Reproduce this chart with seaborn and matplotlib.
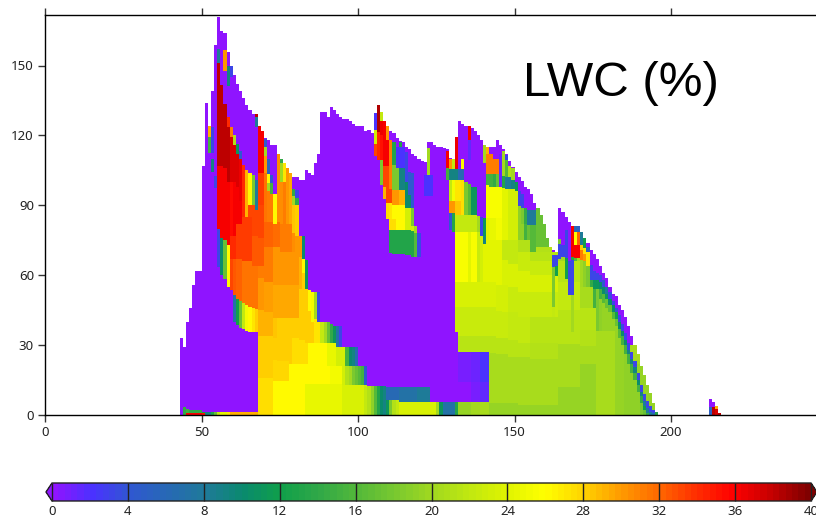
import numpy as np
import pandas as pd
import matplotlib
matplotlib.use("Agg")
import matplotlib.pyplot as plt
from matplotlib.colors import LinearSegmentedColormap
import seaborn as sns

# upper edge of the data, one value per column starting at env_first
env_first = 43
env_top = [33, 29, 40, 46, 56, 62, 62, 107, 134, 124, 139, 159, 171, 165, 164, 156, 150, 146, 142, 139,
           136, 133, 131, 129, 129, 124, 122, 119, 118, 116, 116, 112, 110, 108, 106, 104, 102, 102, 101, 101,
           105, 104, 103, 108, 112, 130, 130, 128, 132, 131, 129, 128, 127, 127, 126, 125, 124, 124, 124, 122,
           122.5, 121, 129.5, 133, 130, 126, 124, 122, 121, 119, 117.5, 117, 115, 114, 112, 111, 110, 109, 108.5, 117,
           117, 116, 115, 115, 114.5, 114, 110.5, 110, 119.5, 126, 125, 124, 124, 123, 122, 120, 118, 116, 115, 115,
           115, 118, 116, 114, 112, 109, 106.5, 104.5, 102, 100.5, 98, 97, 95, 91, 89, 86, 82, 76, 72, 71,
           70, 89, 87, 85, 83, 81, 81, 81, 78.5, 76, 74, 71, 69, 67, 64, 61, 59, 55, 52, 51,
           47, 45, 42, 38, 34, 30, 26, 21, 17, 13, 9.5, 5, 1.5]
spike_first = 212
spike_top = [7, 5.5, 4, 1]

# column ranges and their LWC layers from the ground up: (layer top, LWC), None keeps what is there
col_range = [
    (44, 44), (45, 45), (46, 49), (50, 50), (51, 51), (52, 52), (53, 53), (54, 54), (55, 55), (56, 56),
    (57, 57), (58, 58), (59, 59), (60, 60), (61, 61), (62, 62), (63, 63), (64, 64), (65, 65), (66, 66),
    (67, 67), (68, 68), (69, 69), (70, 70), (71, 71), (72, 72), (73, 73), (74, 74), (75, 75), (76, 76),
    (77, 77), (78, 78), (79, 79), (80, 80), (81, 81), (82, 82), (83, 83), (84, 84), (85, 85), (86, 86),
    (87, 87), (88, 88), (89, 89), (90, 90), (91, 91), (92, 92), (93, 93), (94, 94), (95, 95), (96, 96),
    (97, 97), (98, 98), (99, 99), (100, 100), (101, 101), (102, 102), (103, 103), (104, 104), (105, 105), (106, 106),
    (107, 107), (108, 108), (109, 109), (110, 110), (111, 111), (112, 112), (113, 113), (114, 114), (115, 115), (116, 116),
    (117, 117), (118, 118), (119, 119), (120, 120), (121, 121), (122, 122), (123, 123), (124, 124), (125, 125), (126, 126),
    (127, 127), (128, 128), (129, 129), (130, 130), (131, 131),
]
col_layers = [
    [(3.5, 14)], [(1, 36), (2.5, 15)], [(1, 36), (2, 14)], [(1, 35), (1.5, 12)], [(1.5, 9)],
    [(1.5, 9), (112.5, 0), (119.5, 15), (124, 29)],
    [(1.5, 13), (104.5, 0), (110, 9), (112.5, 0), (123.5, 3)],
    [(1.5, 17), (97.5, 0), (102.5, 3)],
    [(1.5, 22), (63.5, 0), (80, 3), (107, 36), (151, 38), (157, 8)],
    [(1.5, 24), (60, 0), (76, 10), (107, 36), (141.5, 38)],
    [(1.5, 24), (58.5, 0), (75, 17), (106, 36), (133.5, 38), (147.5, 0), (156.5, 30)],
    [(1.5, 27), (55, 0), (73, 26), (100, 36), (123.5, 38), (128, 34), (141, 0), (150, 9)],
    [(1.5, 29), (53.5, 0), (67, 33), (77, 34), (100, 35.5), (119.5, 37), (123.5, 31), (145, 0), (150.5, 3)],
    [(1.5, 29), (40, 0), (51.5, 7), (67, 32.5), (77, 34), (100, 36), (116, 37), (120, 21)],
    [(1.5, 29), (38.5, 0), (50, 12), (67, 32), (82, 33.5), (98, 36), (112, 37), (116.5, 11)],
    [(1.5, 29), (37.5, 0), (49, 17), (67, 32), (82, 33.5), (92, 36), (110, 36.5), (113.5, 4)],
    [(1.5, 29), (37, 0), (48, 22), (66, 31.5), (85, 33.5), (107.5, 34)],
    [(1.5, 29), (36, 0), (47, 25), (66, 31.5), (85, 33.5), (105, 29)],
    [(1.5, 29), (35.5, 0), (46.5, 26), (66, 31.5), (85, 33.5), (90, 33), (104, 26)],
    [(1.5, 29), (35.5, 0), (46, 27), (64, 31.5), (77, 32.5), (90, 33), (103, 18)],
    [(1.5, 29), (35.5, 0), (45.5, 28), (64, 31.5), (77, 32.5), (88, 33), (101, 8), (123.5, 0), (128, 8), (129, 38)],
    [(16, 27.5), (24, 28), (34, 28.3), (45, 29), (59, 30), (64, 31), (76, 32.5), (90, 33), (104, 33.5), (124, 36)],
    [(16, 27.5), (24, 28), (34, 28.3), (45, 29), (59, 30), (64, 31), (76, 32.5), (90, 33), (104, 33.5), (122, 36)],
    [(16, 27.5), (24, 28), (34, 28.3), (44, 29), (57, 29.8), (72, 31), (83, 32), (104, 31.5), (111, 30), (115, 20), (118.5, 4)],
    [(16, 27.5), (24, 28), (34, 28.3), (44, 29), (57, 29.8), (72, 31), (83, 32), (96, 31), (99.5, 20), (103.5, 26), (110, 5)],
    [(16, 27.5), (24, 28), (34, 28.3), (44, 29), (57, 29.8), (72, 31), (83, 32), (95, 31), (99.5, 15), (103, 4)],
    [(14.5, 26), (23.5, 27.8), (33, 28.3), (41.5, 28.5), (56, 29.5), (72, 30.3), (82, 31.8), (95, 26)],
    [(14.5, 26), (23, 27.8), (33, 28), (41.5, 28.3), (56, 29.5), (72, 30.3), (83, 31.8), (112, 30.5)],
    [(14.5, 26), (23, 27.8), (33, 28), (41.5, 28.3), (56, 29.5), (70, 30), (82, 31), (100, 30.5), (108, 20), (110, 14)],
    [(14.5, 26), (23, 27.8), (33, 28), (41.5, 28.3), (56, 29.5), (70, 30), (82, 31), (100, 31), (108, 27)],
    [(14.5, 26), (23, 27.8), (33, 28), (41.5, 28.3), (56, 29.5), (70, 30), (82, 31), (106, 30)],
    [(14.5, 26), (22, 26), (33, 28), (41.5, 28.3), (56, 29.5), (70, 30), (82, 31), (104, 29.5)],
    [(14.5, 26), (22, 26), (33, 27.5), (41.5, 28.3), (56, 29.5), (70, 30), (78, 30.5), (90, 28.5), (94, 20), (97, 14)],
    [(14.5, 26), (22, 26), (33, 27.5), (41.5, 28), (56, 29.5), (70, 30), (77, 30), (90, 28), (93, 14), (96.5, 3)],
    [(14.5, 26), (22, 26), (32, 27.5), (41, 28), (54, 28.3), (68, 29), (77, 30)],
    [(14.5, 26), (22, 26), (32, 27.5), (41, 28), (54, 28.3), (61, 28), (67, 26), (77, 10)],
    [(13.5, 24.5), (22, 26), (31, 27.5), (45, 28), (54, 28.2), (66.5, 11)],
    [(13.5, 24.5), (22, 26), (31, 26), (44.5, 28), (53.5, 26)],
    [(13.5, 24.5), (22, 26), (31, 26), (40, 28), (53, 25)],
    [(13.5, 24.5), (22, 26), (31, 26), (41, 27), (53, 20)],
    [(13.5, 24.5), (22, 26), (31, 26), (40, 27), (53, 3)],
    [(13.5, 24.5), (22, 26), (31, 26), (40, 22)],
    [(13.5, 24.5), (22, 26), (31, 26), (40, 20)],
    [(13.5, 24.5), (21, 26), (31, 24.5), (40, 17)],
    [(13.5, 24.5), (21, 25), (31, 24.5), (39, 14)],
    [(13.5, 24.5), (21, 25), (31, 24.5), (38, 11)],
    [(13.5, 24.5), (21, 25), (29, 23), (38, 7)],
    [(13.5, 24.5), (21, 25), (29, 23), (38, 3)],
    [(13, 23.5), (21, 23), (29, 23)],
    [(13, 23.5), (21, 21), (29, 15)],
    [(13, 23.5), (21, 20), (29, 10)],
    [(13, 23.5), (21, 18), (29, 9)],
    [(13, 23.5), (21, 17), (29, 6)],
    [(13, 23.5), (21, 16)],
    [(13, 23.5), (21, 15)],
    [(13, 22), (21, 4)],
    [(12.5, 21)],
    [(12.5, 19)],
    [(12.5, 16), (111, 0), (116.5, 33), (122.5, 23), (129.5, 2)],
    [(12.5, 13), (109.5, 0), (121.5, 34), (133, 38.5)],
    [(12.5, 10), (98.5, 0), (109.5, 18), (120, 35), (126, 36.5), (130, 22)],
    [(12.5, 9), (92.5, 0), (98, 29), (107, 33), (120, 36), (126, 36)],
    [(6.5, 11), (12, 6), (84, 0), (91, 27.5), (97, 33), (107, 33), (118, 36), (124, 30)],
    [(6.5, 18), (12, 6), (69.5, 0), (79.5, 13), (84, 27.5), (91, 27), (97, 33), (107.5, 31), (118, 31)],
    [(6.5, 21), (12, 6), (69, 0), (79.5, 13), (84, 27.5), (90, 26), (96.5, 30), (107.5, 18), (117, 13)],
    [(6.5, 22), (12, 6), (69, 0), (79.5, 13), (82, 26), (90, 26), (96.5, 30), (106, 18), (115, 2)],
    [(5.5, 23.5), (12, 7), (69, 0), (79.5, 13), (82, 26), (90, 26), (96.5, 29), (106, 9), (115, 2), (117, 13)],
    [(5.5, 23.5), (12, 7), (69, 0), (79.5, 13), (82, 26), (90, 26), (96.5, 29), (106, 9), (115, 2)],
    [(5.5, 23.5), (12, 7), (68.5, 0), (79.5, 13), (81.5, 23), (89, 23), (96, 10), (100, 10), (113, 3)],
    [(5.5, 23.5), (12, 7), (68.5, 0), (79.5, 13), (81.5, 23), (89, 23), (94.5, 10), (104.5, 4)],
    [(5.5, 23.5), (12, 7), (68, 0), (79, 13), (81, 23), (89, 18), (104, 4)],
    [(5.5, 23.5), (12, 7), (68, 0), (78, 16), (81, 20)],
    [(5.5, 23.5), (12, 8), (68, 0), (78, 3)],
    [(5.5, 23.5), (12, 8)],
    [(5.5, 23.5), (12, 8), (94, 0), (103, 2)],
    [(5.5, 23.5), (12, 8), (94, 0), (103, 2), (114.5, 20)],
    [(5.5, 23.5), (94, 0), (103, 2)],
    [(5.5, 23.5)],
    [(5.5, 20)],
    [(5.5, 11)],
    [(5.5, 7)],
    [(5.5, 7), (101, 0), (106, 15), (113.5, 36)],
    [(5.5, 7), (79.5, 0), (86.5, 4), (92, 30), (101, 22), (105.5, 9), (110, 30)],
    [(5.5, 7), (78.5, 0), (86.5, 13), (92, 30), (101, 25), (105.5, 9), (110, 22)],
    [(5.5, 13), (35.5, 0), (46.5, 22.5), (57, 23.5), (78.5, 25.5), (86, 22), (92, 28.5), (101, 27), (105.5, 9), (119.5, 36.5)],
]

# the wide field east of 132, lower bands first
field_range = [(132, 135), (136, 138), (139, 141), (142, 143), (144, 145), (146, 147), (148, 150), (151, 154),
               (155, 163), (164, 170), (171, 175), (176, 195)]
field_layers = [
    [(5.5, 19.5), (14, 0.2), (27, 0.8), (34, 21.5), (46.5, 22.5), (57, 23.5), (70.5, 25.5)],
    [(5.5, 20), (14, 0.8), (27, 1.2), (34, 21.5), (46.5, 22.5), (57, 23.5), (70.5, 25.5)],
    [(5.5, 20.5), (14, 1.4), (27, 2), (34, 21.5), (46.5, 22.5), (57, 23.5), (70.5, 24)],
    [(5, 19.5), (26.5, 20.5), (34, 21.5), (46.5, 22.5), (57, 23.5), (75, 24), (84.5, 24.5), (98, 25.5)],
    [(5, 19.5), (26, 20.5), (33, 21.5), (44.5, 22.5), (56, 23), (75, 24), (84.5, 25), (98, 25.5)],
    [(5, 19.5), (26, 20.5), (33, 21.5), (44, 22.5), (56, 23), (66.5, 23.5), (75, 22), (84.5, 24)],
    [(5, 19.5), (25, 20.5), (32, 21.5), (44, 22), (55, 22.5), (65, 23.5), (75, 22), (84, 23)],
    [(4.5, 19.5), (25, 20.5), (31, 21.5), (42, 22), (53, 22.5), (62, 23.5), (70, 22.5), (75, 21)],
    [(4.5, 19.5), (24, 20.5), (31, 21), (42, 21.5), (53, 22.5), (60, 23.5), (66, 22.5), (70, 21.5)],
    [(12, 19.5), (30.5, 20.5), (45, 21.5), (57, 22), (66, 21.5)],
    [(22, 19.5), (29.5, 20.5), (36.5, 21), (46, 21.5), (55, 20.5)],
    [(22, 19.5), (30, 20.5)],
]

# upper details painted over the field, single columns
detail_col = list(range(132, 196))
detail_layers = [
    [(57, None), (78.5, 25.5), (86, 22), (92, 28.5), (101, 27), (105.5, 6)],
    [(57, None), (78.5, 25.5), (86, 22), (101, 27.5), (105.5, 6), (110, 26)],
    [(57, None), (78.5, 25.5), (86, 22), (100, 18)],
    [(57, None), (78.5, 24), (86, 22), (99, 16), (109.5, 0), (118, 1.5), (124, 36)],
    [(57, None), (78.5, 25.5), (86, 22), (98, 11)],
    [(57, None), (78.5, 25.5), (86, 22), (98, 11)],
    [(57, None), (78.5, 22.5), (85.5, 20)],
    [(57, None), (77, 23), (85, 3)],
    [(57, None), (73.5, 24), (77, 9), (84.5, 11), (108, 0), (116, 20)],
    [(57, None), (84.5, 24), (98.5, 25.5), (103.5, 15), (112, 31), (116, 29)],
    [(98, None), (103.5, 15), (112, 31)],
    [(98, None), (103.5, 14), (110, 31)],
    [(98, None), (103.5, 17), (110, 31)],
    [(98, None), (112, 1)],
    [(84.5, None), (97.5, 24), (102.5, 13), (113.5, 20)],
    [(84.5, None), (97, 24), (102, 8), (109.5, 16), (111.5, 3)],
    [(84, None), (97, 23), (102, 8), (107, 21)],
    [(84, None), (97, 23), (101, 9), (106, 20)],
    [(84, None), (96, 23), (100, 11)],
    [(75, None), (82, 19), (89.5, 19), (96, 3)],
    [(75, None), (82, 19), (89, 18), (95, 3)],
    [(75, None), (82, 15), (89, 14)],
    [(75, None), (81.5, 17), (88, 8)],
    [(70, None), (81.5, 16), (88, 8)],
    [(70, None), (81.5, 16), (88, 8)],
    [(70, None), (72, 21), (100, 17)],
    [(70, None), (72, 21), (100, 17)],
    [(70, None), (72, 21), (100, 17)],
    [(70, None), (72, 21), (100, 17)],
    [(70, None), (72, 21), (100, 17)],
    [(42, None), (46.5, 22), (63.5, 18), (68.5, 3)],
    [(59.5, None), (64, 12), (68.5, 3)],
    [(66, None), (67, 20), (73.5, 3), (75.5, 18)],
    [(66, None), (68, 20), (73, 3)],
    [(58.5, None), (67.5, 12), (79.5, 3)],
    [(51.5, None), (66, 3)],
    [(35.5, None), (51.5, 20), (66.5, 3), (68, 13), (81, 36)],
    [(66, None), (67.5, 16), (73, 36), (78.5, 26), (81, 6)],
    [(66, None), (67.5, 20), (73, 36), (78.5, 32), (81, 5)],
    [(55, None), (66.5, 20), (71, 31), (73, 28), (78.5, 8)],
    [(55, None), (66, 19), (69, 30), (71.5, 27), (76.5, 12)],
    [(55, None), (64, 18), (70, 27), (72, 5)],
    [(55, None), (58, 14), (64.5, 3)],
    [(46, None), (54, 15), (58, 11), (62, 3)],
    [(36, 20.5), (54, 18), (58, 11), (61, 3)],
    [(36, 20.5), (50, 19), (54, 15), (57, 10), (60, 3)],
    [(36, 20.5), (48, 19.5), (52, 16), (55, 10), (58, 4)],
    [(36, 20.5), (46, 19.5), (50, 17), (52, 11), (55, 8)],
    [(36, 20.5), (44, 19.5), (47, 17), (50, 10), (53, 3)],
    [(36, 20.5), (41, 19.5), (44, 16), (47, 10), (49, 3)],
    [(38, 19.5), (41, 17), (44, 12), (46, 4)],
    [(33, 19.5), (37, 16), (40, 10), (43, 3)],
    [(30, 19.5), (34, 15), (36, 10), (39, 3)],
    [(26, 19), (30, 15), (32, 10), (35, 3)],
    [(22, 19), (26, 15), (28, 9), (31, 3)],
    [(18, 19), (22, 15), (24, 9), (27, 3)],
    [(15, 19), (18, 15), (20.5, 9), (23, 3)],
    [(10, 19), (13, 15), (15, 10), (18, 3)],
    [(5, 18), (8, 14), (10, 9), (13, 3)],
    [(2, 17), (4, 12), (6, 8), (9, 3)],
    [(1, 14), (3, 8), (6, 3)],
    [(1.5, 8), (4, 3)],
    [(1, 7), (2, 3)],
    [(1.5, 13)],
]
spike_col = [212, 213, 214, 215]
spike_layers = [[(3.5, 5)], [(3.5, 38)], [(2.5, 37), (4, 29)], [(1, 38)]]

xticks = [0, 50, 100, 150, 200]
yticks = [0, 30, 60, 90, 120, 150]
cbar_ticks = [0, 4, 8, 12, 16, 20, 24, 28, 32, 36, 40]
lwc_levels = [0, 2, 4, 8, 10, 12, 14, 16, 18, 20, 22, 24, 26, 28, 30, 32, 34, 36, 38, 40]
lwc_colors = ["#8f14ff", "#4a32ff", "#2f58d0", "#1f7a99", "#0a8a6e", "#10a04a", "#30a848", "#52b83a",
              "#78c830", "#a0d820", "#c0e810", "#e0f400", "#ffff00", "#ffd500", "#ff9c00", "#ff6a00",
              "#ff3000", "#ff0000", "#c80000", "#800000"]

rows_per_unit = 2
n_cols, n_rows = 247, 172 * rows_per_unit
field = np.full((n_rows, n_cols), np.nan)


def paint(col, layers):
    bottom = 0
    for top, val in layers:
        if val is not None:
            field[int(bottom * rows_per_unit):int(top * rows_per_unit), col] = val
        bottom = top


for i, top in enumerate(env_top):
    field[:int(top * rows_per_unit), env_first + i] = 0
for i, top in enumerate(spike_top):
    field[:int(top * rows_per_unit), spike_first + i] = 0

for (x0, x1), layers in zip(col_range, col_layers):
    for col in range(x0, x1 + 1):
        paint(col, layers)
for (x0, x1), layers in zip(field_range, field_layers):
    for col in range(x0, x1 + 1):
        paint(col, layers)
for col, layers in zip(detail_col, detail_layers):
    paint(col, layers)
for col, layers in zip(spike_col, spike_layers):
    paint(col, layers)

# nothing above the upper edge
for i, top in enumerate(env_top):
    field[int(top * rows_per_unit):, env_first + i] = np.nan
for i, top in enumerate(spike_top):
    field[int(top * rows_per_unit):, spike_first + i] = np.nan

lwc_df = pd.DataFrame(field)

sns.set_style("ticks")
plt.rcParams["font.family"] = ["Noto Sans", "DejaVu Sans"]

W, H = 816, 519
fig = plt.figure(figsize=(W / 100, H / 100), dpi=100)
ax = fig.add_axes([45 / W, 1 - 415 / H, (W - 45) / W, 400 / H])
extend_px = 6
cax = fig.add_axes([(52 - extend_px) / W, 1 - 501 / H, (759 + 2 * extend_px) / W, 18 / H])

cmap = LinearSegmentedColormap.from_list(
    "lwc", [(lev / 40, col) for lev, col in zip(lwc_levels, lwc_colors)], N=120)

sns.heatmap(lwc_df, cmap=cmap, vmin=0, vmax=40, ax=ax, cbar_ax=cax,
            xticklabels=False, yticklabels=False,
            cbar_kws={"orientation": "horizontal", "extend": "both",
                      "extendfrac": extend_px / 759, "ticks": cbar_ticks})

px_per_x = 3.13
ax.set_xlim(0, (W - 45) / px_per_x)
ax.set_ylim(0, 400 / 2.33 * rows_per_unit)
for name in ["left", "top", "bottom"]:
    ax.spines[name].set_visible(True)
    ax.spines[name].set_color("black")
    ax.spines[name].set_linewidth(1)
ax.spines["right"].set_visible(False)
ax.set_xticks(xticks)
ax.set_xticklabels([str(v) for v in xticks], fontsize=9.5, color="#222222", rotation=0)
ax.set_yticks([v * rows_per_unit for v in yticks])
ax.set_yticklabels([str(v) for v in yticks], fontsize=9.5, color="#222222", rotation=0)
ax.tick_params(axis="both", length=5, width=1, color="#333333", top=True, left=True, bottom=True,
               labeltop=False, pad=3)
ax.set_xlabel("")
ax.set_ylabel("")

ax.text(523 / W, 1 - 84 / H, "LWC (%)", transform=fig.transFigure, fontsize=35.5,
        family="Liberation Sans", color="black", ha="left", va="center")

cbar = ax.collections[0].colorbar
cbar.ax.set_axisbelow(False)
cbar.ax.tick_params(axis="x", direction="in", length=13, width=1, color="#222222",
                    labelsize=9.5, labelcolor="#222222", pad=3)
cbar.outline.set_edgecolor("#222222")
cbar.outline.set_linewidth(1)

fig.savefig("out.png", dpi=100)
